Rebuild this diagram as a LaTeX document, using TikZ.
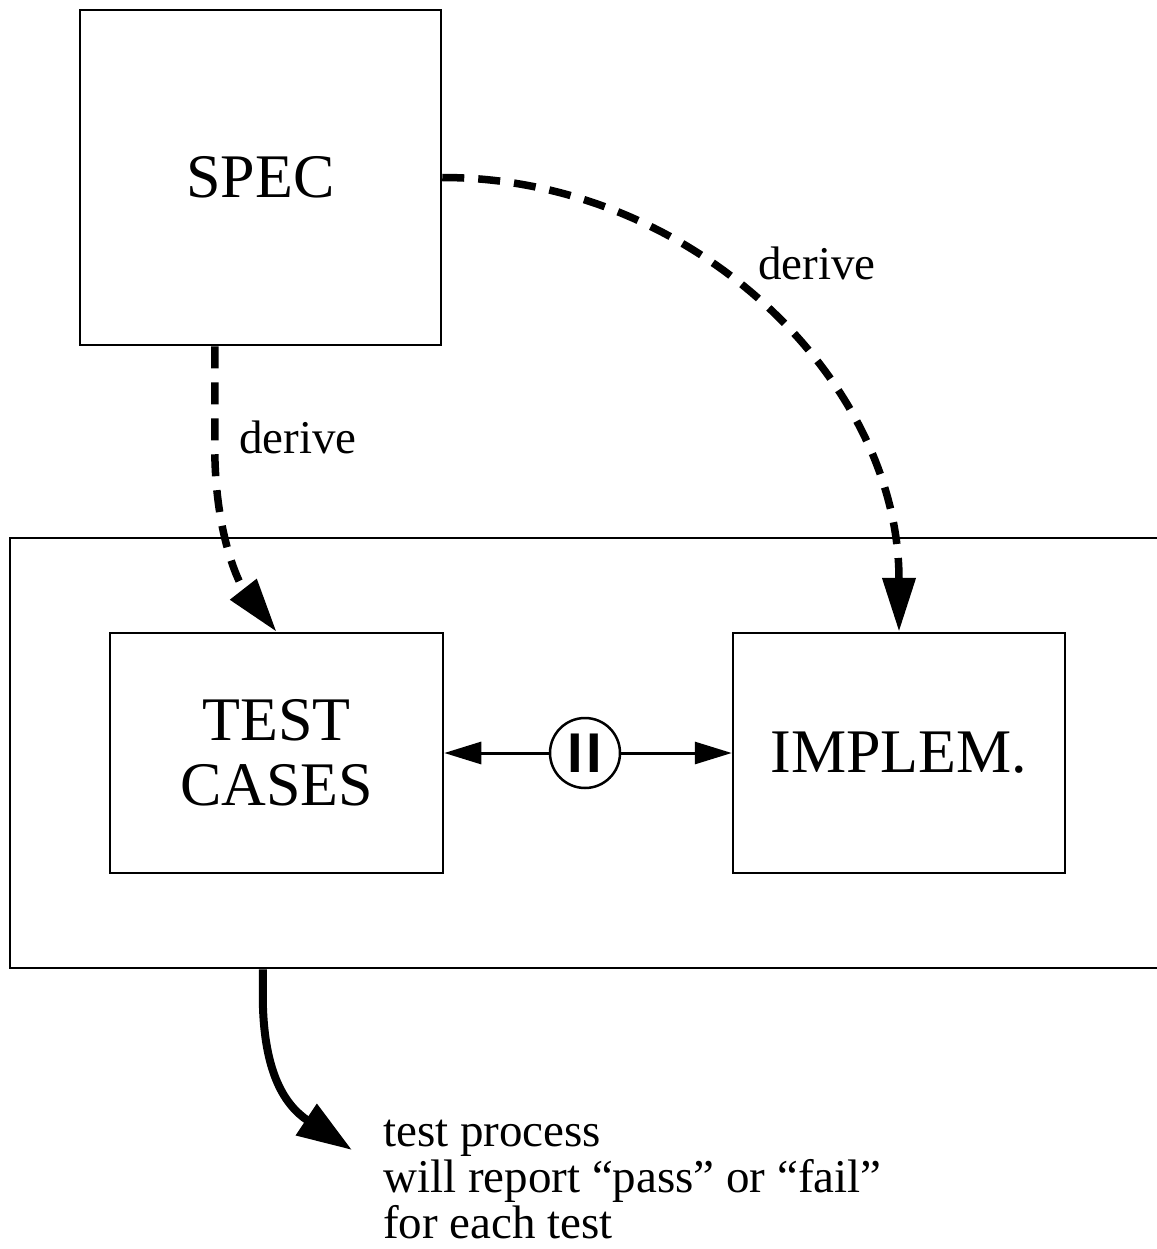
\documentclass[tikz,border=0pt]{standalone}
\usepackage{fontspec}
\setmainfont{Liberation Serif}
\newfontfamily\arialfam{Liberation Sans}
\usetikzlibrary{arrows.meta,calc}
\begin{document}
\begin{tikzpicture}[x=1pt,y=-1pt,
  box/.style={draw, line width=2.5pt, inner sep=0pt, align=center, font=\fontsize{62}{65}\selectfont},
  lbl/.style={inner sep=0pt, anchor=base west, font=\fontsize{47}{46}\selectfont},
  derivearrow/.style={line width=7.5pt, dash pattern=on 22pt off 14pt, -{Triangle[length=54pt,width=32pt]}},
  flow/.style={line width=3pt, -{Triangle[length=37pt,width=22pt]}},
  result/.style={line width=8pt, -{Triangle[length=55pt,width=36pt]}},
  ]
\useasboundingbox (0,0) rectangle (1156,1249);
% boxes
\node[box, minimum width=361, minimum height=335] (spec) at (260.5,177.5) {SPEC};
\node[draw, line width=2.5pt, inner sep=0pt, minimum width=1190, minimum height=430] (outer) at (605,753) {};
\node[box, minimum width=333, minimum height=240] (test) at (276.5,753) {TEST\\CASES};
\node[box, minimum width=332, minimum height=240] (impl) at (899,753) {IMPLEM.};
\node[circle, draw, line width=2.5pt, minimum size=70, inner sep=0pt, font=\arialfam\bfseries\fontsize{56}{56}\selectfont] (par) at (585,753) {I\kern3pt I};
% connectors
\draw[flow] (par.west) -- (test.east);
\draw[flow] (par.east) -- (impl.west);
\draw[derivearrow] ($(spec.south west)+(136,0)$) -- ++(0,100) .. controls +(0,90) and (240,585) .. (test.north);
\draw[derivearrow] (spec.east) .. controls (693,177.5) and (899,381) .. (impl.north);
% labels
\node[lbl] (d1) at (239,453) {derive};
\node[lbl] (d2) at (758,279) {derive};
\node[lbl] (t1) at (383,1146) {test process};
\node[lbl] (t2) at (383,1192) {will report “pass” or “fail”};
\node[lbl] (t3) at (383,1238) {for each test};
\coordinate (tip) at (352,1150);
\draw[result] ($(outer.south west)+(254,0)$) -- ++(0,25) .. controls +(0,80) and (286,1106) .. (tip);
\end{tikzpicture}
\end{document}
